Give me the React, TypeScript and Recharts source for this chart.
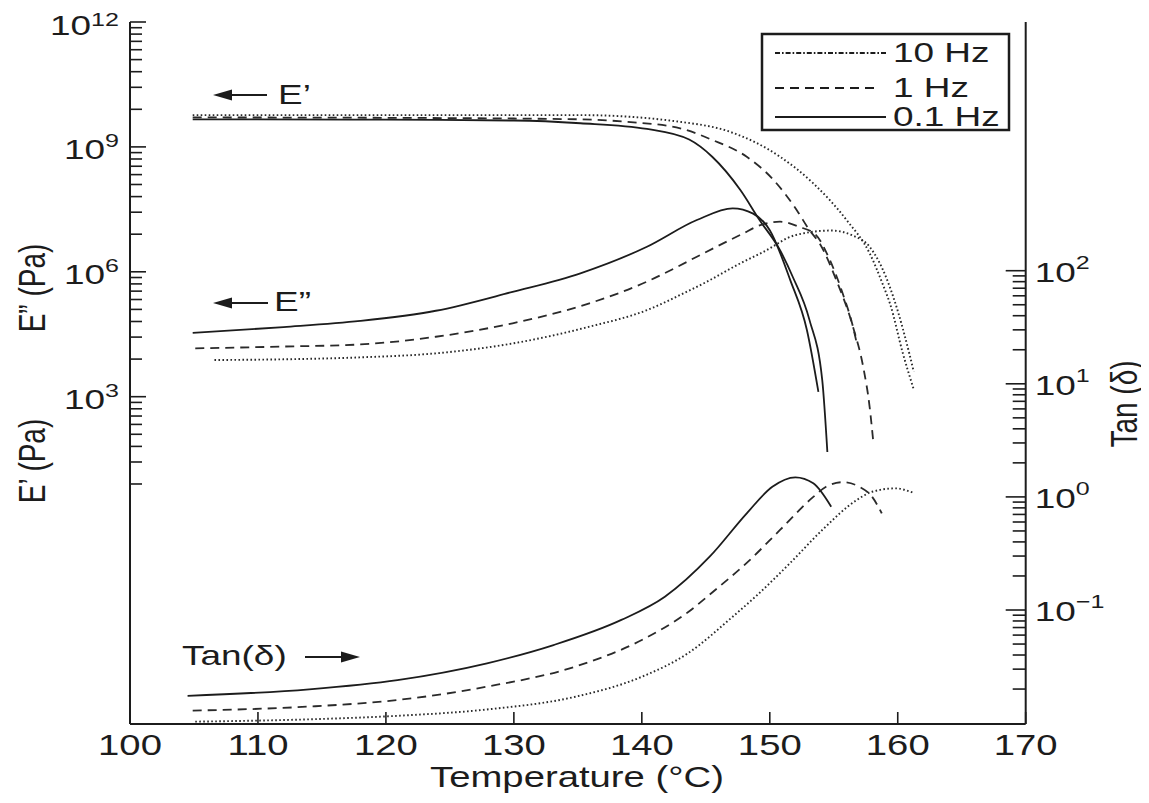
import React from 'react'
import { LineChart, Line, XAxis, YAxis, Customized } from 'recharts'

const INK = '#1c1c1c'
const FONT = '"Liberation Sans", Arial, Helvetica, sans-serif'
// the lettering in the reference is stretched sideways
const STRETCH = 1.32

// ---- axes ----
const tempTicks = [100, 110, 120, 130, 140, 150, 160, 170]
const modMajor = [1e3, 1e6, 1e9, 1e12]
const modMinorBase = [1, 1e3, 1e6, 1e9]
const tanMajor = [0.1, 1, 10, 100]
const tanMinorBase = [0.01, 0.1, 1, 10]
const minorSteps = [2, 3, 4, 5, 6, 7, 8, 9]
const freqLabels = ['10 Hz', '1 Hz', '0.1 Hz']

// ---- E' (Pa) ----
const tStore10 = [104.9, 120, 135.2, 143.0, 146.9, 150.8, 153.4, 156.0, 157.8, 158.9, 159.4, 160.4, 161.25]
const eStore10 = [5.8e9, 5.8e9, 5.8e9, 4.0e9, 2.3e9, 5.8e8, 1.33e8, 1.75e7, 2.8e6, 4.4e5, 1.7e5, 1.1e4, 1.5e3]
const tStore1 = [104.9, 120, 135.2, 138.8, 143.0, 145.5, 148.2, 150.3, 152.1, 153.1, 153.9, 155.2, 156.5, 157.3, 157.8, 158.1]
const eStore1 = [5.1e9, 5.0e9, 4.6e9, 4.0e9, 2.8e9, 1.47e9, 5.8e8, 1.6e8, 3.05e7, 1.0e7, 4.8e6, 6.3e5, 4.8e4, 5.2e3, 5.8e2, 76]
const tStore01 = [104.9, 110, 120, 130, 135.2, 140.4, 143.7, 145.5, 147.7, 149.2, 150.8, 151.8, 153.1, 154.1, 154.5]
const eStore01 = [4.6e9, 4.6e9, 4.5e9, 4.3e9, 3.7e9, 2.7e9, 1.5e9, 5.8e8, 9.2e7, 1.75e7, 3.3e6, 7.5e5, 7e4, 2.5e3, 47]

// ---- E'' (Pa) ----
const tLoss10 = [106.6, 112, 118, 123.9, 129.9, 135.9, 140.4, 143.4, 145.0, 147.7, 149.5, 152.0, 154.8, 156.5, 157.8, 158.85, 159.9, 160.9, 161.25]
const eLoss10 = [7.6e3, 7.9e3, 8.8e3, 1.1e4, 1.9e4, 4.8e4, 1.2e5, 3.2e5, 5.6e5, 1.6e6, 3.0e6, 7.6e6, 9.8e6, 7.4e6, 4.0e6, 1.1e6, 1.45e5, 1.1e4, 4.0e3]
const tLoss1 = [105.1, 112, 118, 123.9, 129.9, 135.9, 140.4, 142.4, 144.3, 147.7, 149.5, 150.8, 152.3, 153.6, 154.7, 155.7, 156.5, 156.8]
const eLoss1 = [1.45e4, 1.6e4, 1.8e4, 2.75e4, 5.8e4, 1.75e5, 5.8e5, 1.15e6, 2.3e6, 7.7e6, 1.4e7, 1.6e7, 1.2e7, 7.7e6, 1.9e6, 3.0e5, 4.8e4, 1.9e4]
const tLoss01 = [104.9, 112, 118, 123.9, 129.9, 135.2, 140.4, 144.3, 147.1, 148.7, 150, 151.6, 152.9, 153.8]
const eLoss01 = [3.4e4, 4.7e4, 6.6e4, 1.16e5, 3.3e5, 9.2e5, 4.0e6, 1.75e7, 3.35e7, 2.5e7, 1.0e7, 6.3e5, 4.0e4, 1.3e3]

// ---- Tan(delta) ----
const tTan10 = [105.1, 114, 120.9, 127.9, 134.8, 140.0, 143.6, 147.1, 149.0, 151.6, 154.1, 156.8, 158.0, 159.8, 161.2]
const vTan10 = [0.0103, 0.0108, 0.0116, 0.0132, 0.0171, 0.0257, 0.0414, 0.0873, 0.135, 0.261, 0.51, 0.94, 1.11, 1.19, 1.09]
const tTan1 = [104.9, 114, 120.9, 127.9, 134.8, 140.0, 143.6, 145.5, 148.2, 150.8, 153.4, 154.4, 155.7, 157.0, 158.0, 158.75]
const vTan1 = [0.0129, 0.014, 0.016, 0.021, 0.0316, 0.0543, 0.0955, 0.143, 0.261, 0.51, 1.0, 1.23, 1.35, 1.23, 1.0, 0.716]
const tTan01 = [104.5, 114, 120.9, 127.9, 133.1, 138.4, 141.8, 145.3, 148.2, 150.2, 152.0, 153.4, 154.8]
const vTan01 = [0.0174, 0.0199, 0.024, 0.0338, 0.049, 0.0817, 0.131, 0.296, 0.716, 1.23, 1.49, 1.32, 0.818]

const zip = (ts: number[], vs: number[]) => ts.map((t, i) => ({ t, v: vs[i] }))

const modTicks = [
  ...modMajor,
  ...modMinorBase.flatMap((b) => minorSteps.map((k) => k * k * k * b)),
].sort((a, b) => a - b)
const tanTicks = [
  ...tanMajor,
  ...tanMinorBase.flatMap((b) => minorSteps.map((k) => k * b)),
].sort((a, b) => a - b)

const dashes: Record<string, string | undefined> = {
  '10 Hz': '1.6 2.4',
  '1 Hz': '9 6',
  '0.1 Hz': undefined,
}

const lines = [
  { id: 'mod', name: '10 Hz', data: zip(tStore10, eStore10) },
  { id: 'mod', name: '1 Hz', data: zip(tStore1, eStore1) },
  { id: 'mod', name: '0.1 Hz', data: zip(tStore01, eStore01) },
  { id: 'mod', name: '10 Hz', data: zip(tLoss10, eLoss10) },
  { id: 'mod', name: '1 Hz', data: zip(tLoss1, eLoss1) },
  { id: 'mod', name: '0.1 Hz', data: zip(tLoss01, eLoss01) },
  { id: 'tan', name: '10 Hz', data: zip(tTan10, vTan10) },
  { id: 'tan', name: '1 Hz', data: zip(tTan1, vTan1) },
  { id: 'tan', name: '0.1 Hz', data: zip(tTan01, vTan01) },
]

const txt = (x: number, y: number, rot = 0) =>
  `translate(${x},${y}) scale(${STRETCH},1)` + (rot ? ` rotate(${rot})` : '')

function XTick(props: any) {
  const { x, y, payload } = props
  return (
    <g>
      <line x1={x} x2={x} y1={y} y2={y - 12} stroke={INK} strokeWidth={1.6} />
      <text transform={txt(x, y + 31)} textAnchor="middle" fontSize={29} fill={INK} fontFamily={FONT}>
        {payload.value}
      </text>
    </g>
  )
}

function ModTick(props: any) {
  const { x, y, payload } = props
  const e = Math.log10(payload.value)
  const major = Math.abs(e / 3 - Math.round(e / 3)) < 1e-6
  const top = Math.round(e) === 12
  return (
    <g>
      <line x1={x} x2={x + (major ? 16 : 12)} y1={y} y2={y} stroke={INK} strokeWidth={1.6} />
      {major && (
        <text transform={txt(x - 11, y + (top ? 13 : 12))} textAnchor="end" fontSize={28} fill={INK} fontFamily={FONT}>
          10<tspan fontSize={19} dy={top ? -9 : -12}>{Math.round(e)}</tspan>
        </text>
      )}
    </g>
  )
}

function TanTick(props: any) {
  const { x, y, payload } = props
  const e = Math.log10(payload.value)
  const major = Math.abs(e - Math.round(e)) < 1e-6
  const exp = Math.round(e)
  return (
    <g>
      <line x1={x} x2={x - (major ? 20 : 13)} y1={y} y2={y} stroke={INK} strokeWidth={1.6} />
      {major && (
        <text transform={txt(x + 9, y + 11)} textAnchor="start" fontSize={28} fill={INK} fontFamily={FONT}>
          10<tspan fontSize={19} dy={-13}>{exp < 0 ? '\u2212' + -exp : exp}</tspan>
        </text>
      )}
    </g>
  )
}

function Arrow({ x1, x2, y }: { x1: number; x2: number; y: number }) {
  // tip at x2
  const dir = x2 > x1 ? 1 : -1
  return (
    <g>
      <line x1={x1} x2={x2 - dir * 14} y1={y} y2={y} stroke={INK} strokeWidth={2.2} />
      <polygon points={`${x2},${y} ${x2 - dir * 19},${y - 5.5} ${x2 - dir * 19},${y + 5.5}`} fill={INK} />
    </g>
  )
}

function Overlay() {
  const rows = [45, 80, 109]
  return (
    <g fontFamily={FONT} fill={INK}>
      {/* axis titles */}
      <text transform={txt(569, 779)} textAnchor="middle" fontSize={29}>
        Temperature (°C)
      </text>
      <text transform={txt(24, 280, -90)} textAnchor="middle" dy="0.35em" fontSize={28}>
        E” (Pa)
      </text>
      <text transform={txt(24, 453, -90)} textAnchor="middle" dy="0.35em" fontSize={28}>
        E’ (Pa)
      </text>
      <text transform={txt(1116, 396, -90)} textAnchor="middle" dy="0.35em" fontSize={28}>
        Tan (δ)
      </text>

      {/* curve annotations */}
      <Arrow x1={259} x2={205} y={87} />
      <text transform={txt(270, 96)} fontSize={28}>E’</text>
      <Arrow x1={260} x2={205} y={295} />
      <text transform={txt(266, 303)} fontSize={28}>E”</text>
      <text transform={txt(174, 657)} fontSize={28}>Tan(δ)</text>
      <Arrow x1={297} x2={352} y={649} />

      {/* legend */}
      <rect x={754} y={26} width={247} height={96} fill="#fff" stroke={INK} strokeWidth={2.5} />
      {freqLabels.map((name, i) => (
        <g key={name}>
          <line
            x1={767}
            x2={name === '1 Hz' ? 872 : 878}
            y1={rows[i]}
            y2={rows[i]}
            stroke={INK}
            strokeWidth={1.8}
            strokeDasharray={name === '10 Hz' ? '5 2 1.6 2' : dashes[name]}
          />
          <text transform={txt(885, rows[i] + 9)} fontSize={28}>
            {name}
          </text>
        </g>
      ))}
    </g>
  )
}

export default function App() {
  return (
    <div style={{ width: 1139, height: 787, background: '#fff' }}>
      <LineChart width={1139} height={787} margin={{ top: 14, right: 0, bottom: 0, left: 0 }}>
        <XAxis
          type="number"
          dataKey="t"
          domain={[100, 170]}
          ticks={tempTicks}
          interval={0}
          allowDataOverflow
          height={71}
          tickSize={0}
          tickMargin={0}
          tickLine={false}
          axisLine={{ stroke: INK, strokeWidth: 2 }}
          tick={<XTick />}
        />
        <XAxis
          xAxisId="top"
          orientation="top"
          type="number"
          dataKey="t"
          domain={[100, 170]}
          allowDataOverflow
          height={0}
          tick={false}
          tickLine={false}
          axisLine={{ stroke: INK, strokeWidth: 2 }}
        />
        <YAxis
          yAxisId="mod"
          type="number"
          scale="log"
          domain={[1.374e-5, 1e12]}
          ticks={modTicks}
          interval={0}
          allowDataOverflow
          width={122}
          tickSize={0}
          tickMargin={0}
          tickLine={false}
          axisLine={{ stroke: INK, strokeWidth: 2 }}
          tick={<ModTick />}
        />
        <YAxis
          yAxisId="tan"
          orientation="right"
          type="number"
          scale="log"
          domain={[0.00982, 15810]}
          ticks={tanTicks}
          interval={0}
          allowDataOverflow
          width={121.3}
          tickSize={0}
          tickMargin={0}
          tickLine={false}
          axisLine={{ stroke: INK, strokeWidth: 2 }}
          tick={<TanTick />}
        />
        {lines.map((s, i) => (
          <Line
            key={i}
            yAxisId={s.id}
            data={s.data}
            dataKey="v"
            name={s.name}
            type="monotone"
            stroke={s.name === '0.1 Hz' ? INK : '#2a2a2a'}
            strokeWidth={s.name === '10 Hz' ? 1.9 : 1.8}
            strokeDasharray={dashes[s.name]}
            dot={false}
            activeDot={false}
            isAnimationActive={false}
          />
        ))}
        <Customized component={<Overlay />} />
      </LineChart>
    </div>
  )
}
